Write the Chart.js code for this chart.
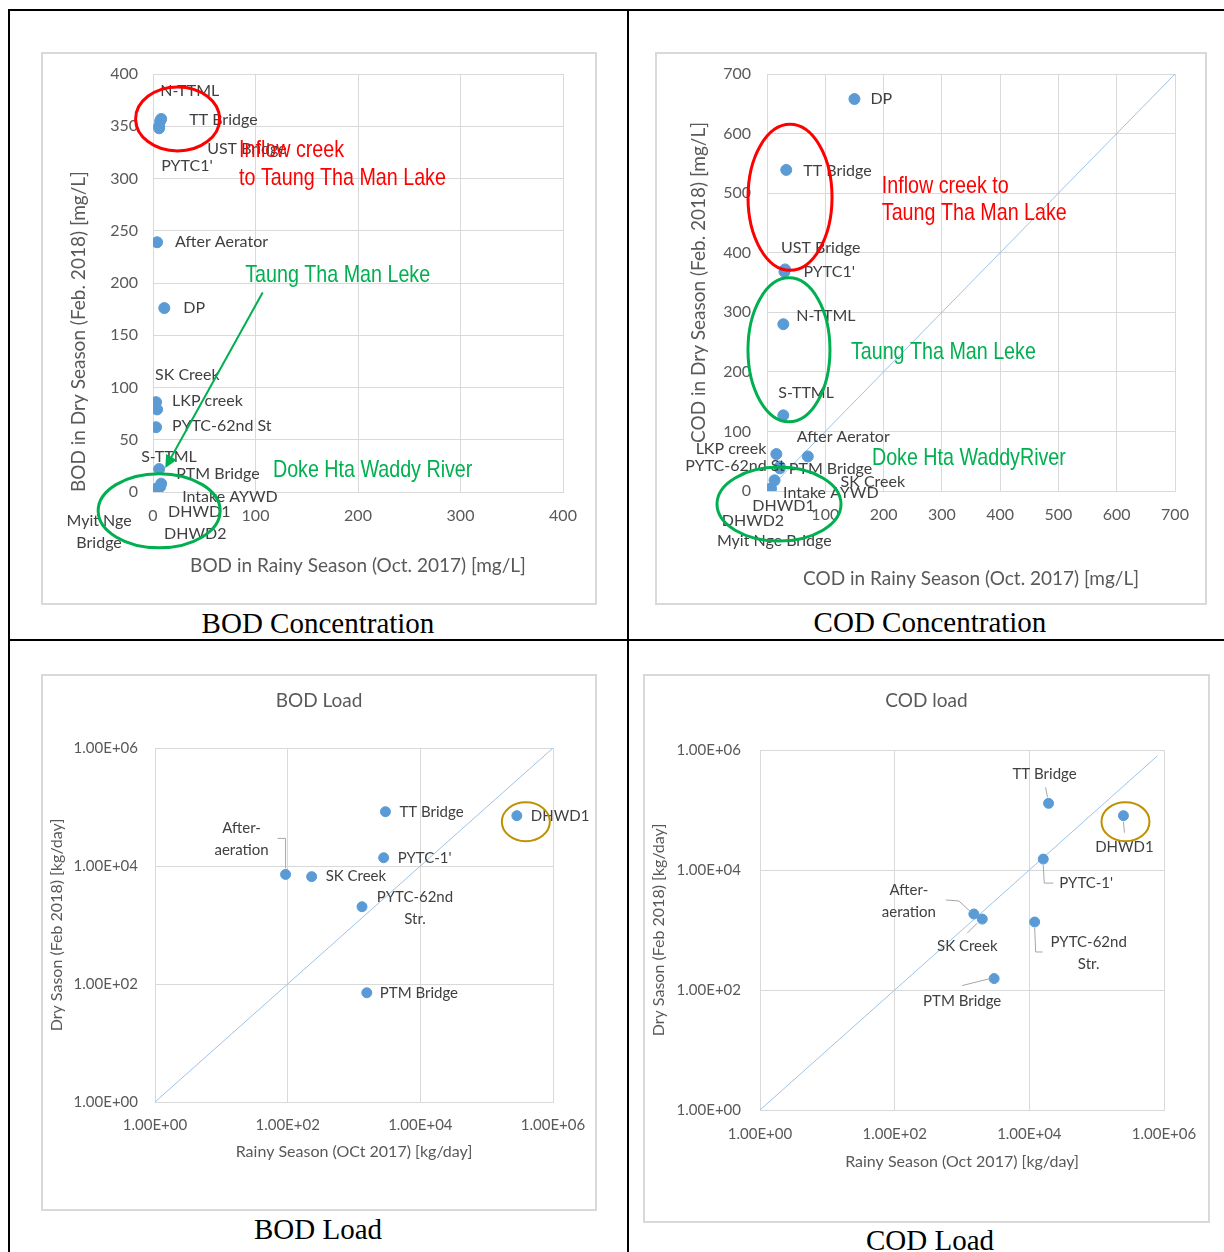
<!DOCTYPE html>
<html lang="en">
<head>
<meta charset="UTF-8">
<title>BOD / COD concentration and load, rainy vs dry season</title>
<script src="https://cdn.jsdelivr.net/npm/chart.js"></script>
<style>
  body { margin: 0; background: #fff; }
  #page { position: relative; width: 1224px; height: 1252px; overflow: hidden; background: #fff; }
  .rule { position: absolute; background: #000; }
  .box { position: absolute; border: 2px solid #d9d9d9; box-sizing: border-box; }
  .box canvas { display: block; }
  .cap { position: absolute; width: 600px; height: 34px; line-height: 34px; text-align: center;
         font-family: "Liberation Serif", "Times New Roman", serif; font-size: 29px; color: #000; }
</style>
</head>
<body>
<div id="page">
  <div class="rule" style="left:8px;top:9px;width:1216px;height:2px"></div>
  <div class="rule" style="left:8px;top:9px;width:2px;height:1243px"></div>
  <div class="rule" style="left:627px;top:9px;width:2px;height:1243px"></div>
  <div class="rule" style="left:8px;top:639px;width:1216px;height:2px"></div>

  <div class="box" style="left:41px;top:52px;width:556px;height:553px"><canvas id="bodConc" width="552" height="549"></canvas></div>
  <div class="box" style="left:655px;top:52px;width:552px;height:553px"><canvas id="codConc" width="548" height="549"></canvas></div>
  <div class="box" style="left:41px;top:674px;width:556px;height:537px"><canvas id="bodLoad" width="552" height="533"></canvas></div>
  <div class="box" style="left:643px;top:674px;width:567px;height:549px"><canvas id="codLoad" width="563" height="545"></canvas></div>

  <div class="cap" style="left:18px;top:606px">BOD Concentration</div>
  <div class="cap" style="left:630px;top:605px">COD Concentration</div>
  <div class="cap" style="left:18px;top:1212px">BOD Load</div>
  <div class="cap" style="left:630px;top:1223px">COD Load</div>
</div>

<script>
// ---- BOD concentration [mg/L] : rainy (Oct 2017) vs dry (Feb 2018)
const bodConcSites = ['N-TTML', 'TT Bridge', 'UST Bridge', "PYTC1'", 'After Aerator', 'DP', 'SK Creek', 'LKP creek',
                      'PYTC-62nd St', 'S-TTML', 'PTM Bridge', 'Intake AYWD', 'DHWD1', 'DHWD2', 'Myit Nge\nBridge'];
const bodConcRainy = [7, 8, 6, 6, 4, 11, 3, 4, 3, 6, 8, 7, 4, 2, 3];
const bodConcDry   = [355, 357, 350, 348, 239, 176, 86, 79, 62, 22, 8, 5, 3, 2, 3];

// ---- COD concentration [mg/L]
const codConcSites = ['DP', 'TT Bridge', 'UST Bridge', "PYTC1'", 'N-TTML', 'S-TTML', 'After Aerator', 'LKP creek',
                      'PYTC-62nd St', 'PTM Bridge', 'SK Creek', 'Intake AYWD', 'DHWD1', 'DHWD2', 'Myit Nge Bridge'];
const codConcRainy = [150, 33, 31, 30, 28, 28, 70, 16, 22, 22, 13, 7, 4, 3, 5];
const codConcDry   = [658, 539, 372, 368, 280, 127, 58, 62, 41, 38, 18, 4, 3, 2, 2];
const codConcRefLine = [0, 700];

// ---- loads [kg/day]
const loadSites  = ['TT Bridge', 'DHWD1', "PYTC-1'", 'After-\naeration', 'SK Creek', 'PYTC-62nd\nStr.', 'PTM Bridge'];
const bodLoadRainy = [2980, 285000, 2800, 93, 230, 1320, 1560];
const bodLoadDry   = [83200, 71200, 13800, 7200, 6600, 2040, 71];
const codLoadRainy = [19300, 250000, 16100, 1500, 2000, 12000, 3000];
const codLoadDry   = [129000, 80400, 15200, 1850, 1520, 1360, 155];
const bodLoadRefLine = [1, 1000000];
const codLoadRefLine = [1, 800000];

const loadTicks = [1, 100, 10000, 1000000];
const loadTickLabels = ['1.00E+00', '1.00E+02', '1.00E+04', '1.00E+06'];

// label placement: [dx, dy, align, leader polyline] in px from the point
const bodConcPlace = [[0,-30],[28,1],[48,23],[2,38],[18,0],[19,0],[-1,-27],[15,-9],[16,-1],[-18,-12],[15,-10],
                      [22,10],[11,23],[9,44],[-57,43,'center']];
const codConcPlace = [[16,0],[17,1],[-4,-22],[19,0],[13,-8],[-5,-23],[-11,-20],[-10,-5,'right'],[5,-1,'right'],
                      [9,0],[66,2],[12,4],[-17,17],[-47,31],[-53,51]];
const bodLoadPlace = [[14,0],[14,0],[14,0],[-44,-35,'center',[[-8,-36],[0,-36],[0,-6]]],[14,0],[53,1,'center'],[13,0]];
const codLoadPlace = [[-4,-29,'center',[[-3,-16],[-1,-6]]], [1,31,'center',[[0,6],[1,17]]],
                      [16,24,'left',[[0,6],[1,24],[10,24]]], [-65,-13,'center',[[-28,-14],[-15,-13],[-3,-2]]],
                      [-15,27,'center',[[-15,14],[-5,4]]], [54,31,'center',[[0,6],[1,30],[8,30]]],
                      [-32,23,'center',[[-32,7],[-4,0]]]];

const RED = '#ff0000', GREEN = '#00b050', GOLD = '#bf9000';
const UI = 'Lato, "Open Sans", sans-serif';

// per-canvas decoration settings (kept outside Chart.js options)
const decorCfg = {};

// draws heading, point labels, leader lines and the hand-made call-outs
const decor = {
  id: 'decor',
  afterDatasetsDraw(chart) {
    const o = decorCfg[chart.canvas.id];
    const ctx = chart.ctx, xs = chart.scales.x, ys = chart.scales.y;
    const pts = chart.getDatasetMeta(0).data;
    ctx.save();
    ctx.textBaseline = 'middle';
    if (o.heading) {
      ctx.font = '19px ' + UI;
      ctx.fillStyle = '#595959';
      ctx.textAlign = 'center';
      ctx.fillText(o.heading, chart.width / 2, o.headingY);
    }
    pts.forEach((pt, i) => {
      const p = o.place[i];
      if (p[3]) {
        ctx.strokeStyle = '#a6a6a6';
        ctx.lineWidth = 1;
        ctx.beginPath();
        p[3].forEach((q, k) => k ? ctx.lineTo(pt.x + q[0], pt.y + q[1]) : ctx.moveTo(pt.x + q[0], pt.y + q[1]));
        ctx.stroke();
      }
      const lines = o.names[i].split('\n');
      ctx.font = o.font;
      ctx.fillStyle = '#404040';
      ctx.textAlign = p[2] || 'left';
      lines.forEach((ln, k) => ctx.fillText(ln, pt.x + p[0], pt.y + p[1] + (k - (lines.length - 1) / 2) * 22));
    });
    o.shapes.forEach(s => {
      let cx, cy;
      if (s.type === 'mark') { cx = pts[s.at].x + s.dx; cy = pts[s.at].y + s.dy; }
      else { cx = xs.getPixelForValue(s.x); cy = ys.getPixelForValue(s.y); }
      ctx.strokeStyle = s.color; ctx.fillStyle = s.color;
      if (s.type === 'ellipse' || s.type === 'mark') {
        ctx.lineWidth = s.w || 3;
        ctx.beginPath();
        ctx.ellipse(cx, cy, s.rx, s.ry, 0, 0, Math.PI * 2);
        ctx.stroke();
      } else if (s.type === 'text') {
        // condensed sans, squeezed horizontally
        ctx.save();
        ctx.translate(cx, cy);
        ctx.scale(0.82, 1);
        ctx.font = '24px "Liberation Sans", Arial, sans-serif';
        ctx.textAlign = 'left';
        ctx.fillText(s.text, 0, 0);
        ctx.restore();
      } else if (s.type === 'arrow') {
        const x2 = xs.getPixelForValue(s.x2), y2 = ys.getPixelForValue(s.y2);
        const a = Math.atan2(y2 - cy, x2 - cx);
        ctx.lineWidth = 2;
        ctx.beginPath();
        ctx.moveTo(cx, cy);
        ctx.lineTo(x2 - 8 * Math.cos(a), y2 - 8 * Math.sin(a));
        ctx.stroke();
        ctx.beginPath();
        ctx.moveTo(x2, y2);
        ctx.lineTo(x2 - 14 * Math.cos(a - 0.45), y2 - 14 * Math.sin(a - 0.45));
        ctx.lineTo(x2 - 14 * Math.cos(a + 0.45), y2 - 14 * Math.sin(a + 0.45));
        ctx.closePath();
        ctx.fill();
      }
    });
    ctx.restore();
  }
};

function pairs(xv, yv) { return xv.map((v, i) => ({ x: v, y: yv[i] })); }

function axis(o) {
  const horiz = o.size.h !== undefined;
  const ax = {
    type: o.log ? 'logarithmic' : 'linear',
    min: o.min, max: o.max,
    grid: { color: '#d9d9d9', lineWidth: 1, drawTicks: false },
    border: { color: '#d9d9d9' },
    ticks: { color: '#595959', font: { family: UI, size: o.tickSize }, padding: o.tickPad },
    title: { display: true, text: o.title, color: '#595959', align: o.titleAlign || 'center',
             font: { family: UI, size: o.titleSize }, padding: o.titlePad },
    // fixed axis boxes so the plot area lands where the original has it
    afterFit: s => {
      if (horiz) { s.height = o.size.h; s.paddingLeft = 0; s.paddingRight = 0; }
      else { s.width = o.size.w; s.paddingTop = 0; s.paddingBottom = 0; }
    }
  };
  if (o.step) ax.ticks.stepSize = o.step;
  if (o.hideZero) ax.ticks.callback = v => (v === 0 ? '' : v);
  if (o.log) {
    ax.afterBuildTicks = s => { s.ticks = loadTicks.map(v => ({ value: v })); };
    ax.ticks.callback = (v, i) => loadTickLabels[i];
  }
  return ax;
}

function build(id, cfg) {
  decorCfg[id] = { names: cfg.names, place: cfg.place, font: cfg.labelFont, shapes: cfg.shapes,
                   heading: cfg.heading, headingY: cfg.headingY };
  const datasets = [{
    data: pairs(cfg.xv, cfg.yv),
    backgroundColor: '#5b9bd5', borderColor: '#5b9bd5',
    pointRadius: cfg.r, pointHoverRadius: cfg.r
  }];
  if (cfg.ref) datasets.push({
    type: 'line', data: pairs(cfg.ref, cfg.ref),
    borderColor: '#9dc3e6', borderWidth: 1, pointRadius: 0, fill: false
  });
  return new Chart(document.getElementById(id), {
    type: 'scatter',
    data: { datasets },
    options: {
      responsive: false, animation: false,
      layout: { padding: cfg.pad },
      plugins: { legend: { display: false }, tooltip: { enabled: false }, title: { display: false } },
      scales: { x: cfg.x, y: cfg.y }
    },
    plugins: [decor]
  });
}

build('bodConc', {
  xv: bodConcRainy, yv: bodConcDry, names: bodConcSites, place: bodConcPlace, r: 5.5,
  labelFont: '16px ' + UI,
  pad: { top: 20, right: 32, left: 0, bottom: 0 },
  x: axis({ min: 0, max: 400, step: 100, tickSize: 16, tickPad: 14, title: 'BOD in Rainy Season (Oct. 2017) [mg/L]',
            titleSize: 19, titlePad: { top: 0, bottom: 26 }, size: { h: 111 } }),
  y: axis({ min: 0, max: 400, step: 50, tickSize: 16, tickPad: 15, title: 'BOD in Dry Season (Feb. 2018) [mg/L]',
            titleSize: 19, titleAlign: 'start', titlePad: { top: 24, bottom: 0 }, size: { w: 110 } }),
  shapes: [
    { type: 'ellipse', x: 24, y: 357, rx: 42, ry: 32, color: RED },
    { type: 'text', x: 84, y: 327, text: 'Inflow creek', color: RED },
    { type: 'text', x: 84, y: 300, text: 'to Taung Tha Man Lake', color: RED },
    { type: 'text', x: 90, y: 207, text: 'Taung Tha Man Leke', color: GREEN },
    { type: 'arrow', x: 107, y: 191, x2: 12, y2: 23, color: GREEN },
    { type: 'ellipse', x: 6, y: -18, rx: 61, ry: 37, color: GREEN },
    { type: 'text', x: 117, y: 21, text: 'Doke Hta Waddy River', color: GREEN }
  ]
});

build('codConc', {
  xv: codConcRainy, yv: codConcDry, names: codConcSites, place: codConcPlace, r: 5.5, ref: codConcRefLine,
  labelFont: '16px ' + UI,
  pad: { top: 20, right: 30, left: 0, bottom: 0 },
  x: axis({ min: 0, max: 700, step: 100, tickSize: 16, tickPad: 14, hideZero: true,
            title: 'COD in Rainy Season (Oct. 2017) [mg/L]', titleSize: 19, titlePad: { top: 0, bottom: 13 },
            size: { h: 112 } }),
  y: axis({ min: 0, max: 700, step: 100, tickSize: 16, tickPad: 16, title: 'COD in Dry Season (Feb. 2018) [mg/L]',
            titleSize: 19, titlePad: { top: 30, bottom: 0 }, size: { w: 110 } }),
  shapes: [
    { type: 'ellipse', x: 39.5, y: 493, rx: 42, ry: 73, color: RED },
    { type: 'text', x: 197, y: 512, text: 'Inflow creek to', color: RED },
    { type: 'text', x: 197, y: 466, text: 'Taung Tha Man Lake', color: RED },
    { type: 'ellipse', x: 37.7, y: 237, rx: 41, ry: 72, color: GREEN },
    { type: 'text', x: 144, y: 233, text: 'Taung Tha Man Leke', color: GREEN },
    { type: 'ellipse', x: 20.6, y: -22, rx: 62, ry: 37, color: GREEN },
    { type: 'text', x: 180, y: 54, text: 'Doke Hta WaddyRiver', color: GREEN }
  ]
});

build('bodLoad', {
  xv: bodLoadRainy, yv: bodLoadDry, names: loadSites, place: bodLoadPlace, r: 5, ref: bodLoadRefLine,
  labelFont: '15px ' + UI, heading: 'BOD Load', headingY: 25,
  pad: { top: 72, right: 42, left: 0, bottom: 0 },
  x: axis({ log: true, min: 1, max: 1000000, tickSize: 15, tickPad: 14, title: 'Rainy Season (OCt 2017) [kg/day]',
            titleSize: 16, titlePad: { top: 0, bottom: 48 }, size: { h: 107 } }),
  y: axis({ log: true, min: 1, max: 1000000, tickSize: 15, tickPad: 17, title: 'Dry Sason (Feb 2018) [kg/day]',
            titleSize: 16, titlePad: { top: 4, bottom: 0 }, size: { w: 112 } }),
  shapes: [ { type: 'mark', at: 1, dx: 9, dy: 6, rx: 24, ry: 19.5, color: GOLD, w: 2 } ]
});

build('codLoad', {
  xv: codLoadRainy, yv: codLoadDry, names: loadSites, place: codLoadPlace, r: 5, ref: codLoadRefLine,
  labelFont: '15px ' + UI, heading: 'COD load', headingY: 25,
  pad: { top: 74, right: 44, left: 0, bottom: 0 },
  x: axis({ log: true, min: 1, max: 1000000, tickSize: 15, tickPad: 15, title: 'Rainy Season (Oct 2017) [kg/day]',
            titleSize: 16, titlePad: { top: 0, bottom: 50 }, size: { h: 111 } }),
  y: axis({ log: true, min: 1, max: 1000000, tickSize: 15, tickPad: 19, title: 'Dry Sason (Feb 2018) [kg/day]',
            titleSize: 16, titlePad: { top: 4, bottom: 0 }, size: { w: 115 } }),
  shapes: [ { type: 'mark', at: 1, dx: 2, dy: 6, rx: 24, ry: 19.5, color: GOLD, w: 2 } ]
});
</script>
</body>
</html>
